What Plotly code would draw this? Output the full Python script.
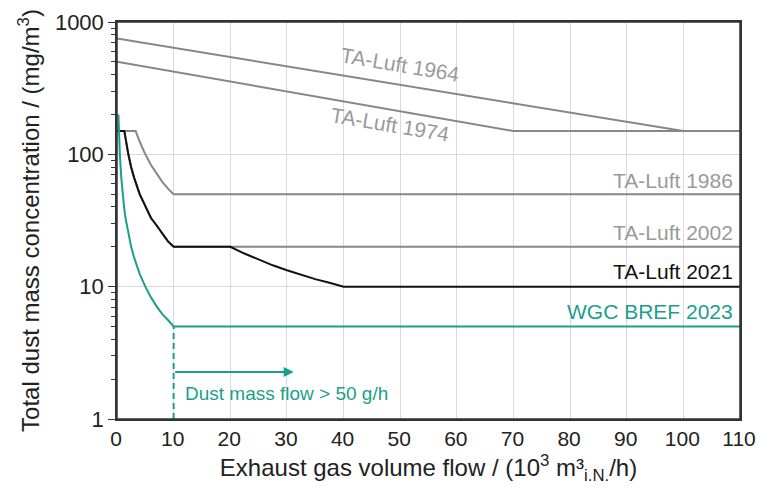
import math
import plotly.graph_objects as go

# ---- data ----
x_1964 = [0, 100, 110]
y_1964 = [750, 150, 150]

x_1974 = [0, 70, 110]
y_1974 = [500, 150, 150]

x_1986 = [0, 3.3, 4, 5, 6, 7, 8, 9, 10, 110]
y_1986 = [150, 150, 125, 100, 83, 71, 62, 55, 50, 50]

x_2002 = [0, 1.3, 1.5, 1.75, 2, 2.5, 3, 4, 5, 6, 7, 8, 9, 10, 110]
y_2002 = [150, 150, 133, 114, 100, 80, 67, 50, 40, 33, 29, 25, 22, 20, 20]

x_2021 = [0, 1.3, 1.5, 1.75, 2, 2.5, 3, 4, 5, 6, 7, 8, 9, 10, 20,
          22.5, 25, 27.5, 30, 32.5, 35, 37.5, 40, 110]
y_2021 = [150, 150, 133, 114, 100, 80, 67, 50, 40, 33, 29, 25, 22, 20, 20,
          17.8, 16, 14.5, 13.3, 12.3, 11.4, 10.7, 10, 10]

x_wgc = [0.25, 0.3, 0.4, 0.5, 0.75, 1, 1.25, 1.5, 2, 2.5, 3, 4, 5, 6, 7, 8, 9, 10, 110]
y_wgc = [200, 167, 125, 100, 67, 50, 40, 33, 25, 20, 16.7, 12.5, 10, 8.3, 7.1, 6.2, 5.6, 5, 5]

x_threshold = [10, 10]
y_threshold = [1, 5]

x_ticks = [0, 10, 20, 30, 40, 50, 60, 70, 80, 90, 100, 110]
y_ticks = [1, 10, 100, 1000]
y_minor_ticks = [2, 3, 4, 5, 6, 7, 8, 9,
                 20, 30, 40, 50, 60, 70, 80, 90,
                 200, 300, 400, 500, 600, 700, 800, 900]

GRAY_LINE = "#878787"
GRAY_TEXT = "#9a9a9a"
BLACK = "#111111"
TEAL = "#1a9f8a"
FRAME = "#333333"
FONT = "Liberation Sans, Arial, sans-serif"

fig = go.Figure()

def add_line(x, y, color, dash="solid"):
    fig.add_trace(go.Scatter(x=x, y=y, mode="lines",
                             line=dict(color=color, width=2, dash=dash),
                             showlegend=False, hoverinfo="skip"))

add_line(x_1964, y_1964, GRAY_LINE)
add_line(x_1974, y_1974, GRAY_LINE)
add_line(x_1986, y_1986, GRAY_LINE)
add_line(x_2002, y_2002, GRAY_LINE)
add_line(x_2021, y_2021, BLACK)
add_line(x_wgc, y_wgc, TEAL)
add_line(x_threshold, y_threshold, TEAL, dash="6px,4px")

ann = []
# rotated labels
ann.append(dict(x=49.9, y=math.log10(474), text="TA-Luft 1964", textangle=9.5,
                font=dict(color=GRAY_TEXT, size=21, family=FONT), showarrow=False))
ann.append(dict(x=48.2, y=math.log10(167), text="TA-Luft 1974", textangle=9.5,
                font=dict(color=GRAY_TEXT, size=21, family=FONT), showarrow=False))
# right-aligned labels
for txt, ylog, col in [("TA-Luft 1986", 1.806, GRAY_TEXT),
                       ("TA-Luft 2002", 1.406, GRAY_TEXT),
                       ("TA-Luft 2021", 1.111, BLACK),
                       ("WGC BREF 2023", 0.816, TEAL)]:
    ann.append(dict(x=109.2, y=ylog, text=txt, xanchor="right", yanchor="middle",
                    font=dict(color=col, size=21, family=FONT), showarrow=False))
# arrow
ann.append(dict(x=31.2, y=math.log10(2.27), ax=10, ay=math.log10(2.27),
                xref="x", yref="y", axref="x", ayref="y", text="",
                showarrow=True, arrowhead=2, arrowsize=1, arrowwidth=2,
                arrowcolor=TEAL))
ann.append(dict(x=11.6, y=math.log10(1.57), text="Dust mass flow > 50 g/h",
                xanchor="left", yanchor="middle",
                font=dict(color=TEAL, size=19, family=FONT), showarrow=False))

fig.update_layout(
    width=757, height=494,
    margin=dict(l=117, r=17, t=22, b=75),
    paper_bgcolor="white", plot_bgcolor="white",
    font=dict(family=FONT, size=21, color="#222222"),
    annotations=ann,
    showlegend=False,
    shapes=[dict(type="rect", xref="paper", yref="paper", x0=0, x1=1, y0=0, y1=1,
                 line=dict(color=FRAME, width=1.5), layer="above")],
)
fig.update_xaxes(
    range=[0, 110], tickvals=x_ticks, ticks="",
    showgrid=True, gridcolor="#d9d9d9", gridwidth=1,
    showline=True, linecolor=FRAME, linewidth=1.5, mirror=True,
    zeroline=False, automargin=False, ticklabeloverflow="allow",
    ticklabelshift=-1,
    tickfont=dict(size=21, color="#222222"),
    title=dict(text="Exhaust gas volume flow / (10<sup>3</sup> m³<sub>i.N.</sub>/h)",
               font=dict(size=24, color="#222222"), standoff=10),
)
fig.update_yaxes(
    type="log", range=[0, 3], tickvals=y_ticks,
    ticks="outside", ticklen=7, tickcolor=FRAME,
    minor=dict(tickvals=y_minor_ticks, ticks="outside", ticklen=4,
               tickcolor=FRAME, showgrid=False),
    showgrid=True, gridcolor="#d9d9d9", gridwidth=1,
    showline=True, linecolor=FRAME, linewidth=1.5, mirror=True,
    zeroline=False, automargin=False, ticklabeloverflow="allow",
    tickfont=dict(size=22, color="#222222"),
    title=dict(text="Total dust mass concentration / (mg/m<sup>3</sup>)",
               font=dict(size=24, color="#222222"), standoff=8),
)

# remove the browser's default 8px body margin so the figure fills the window
fig.write_html("out.html",
               config={"displayModeBar": False},
               post_script="document.body.style.margin='0';"
                           "document.body.style.overflow='hidden';")
